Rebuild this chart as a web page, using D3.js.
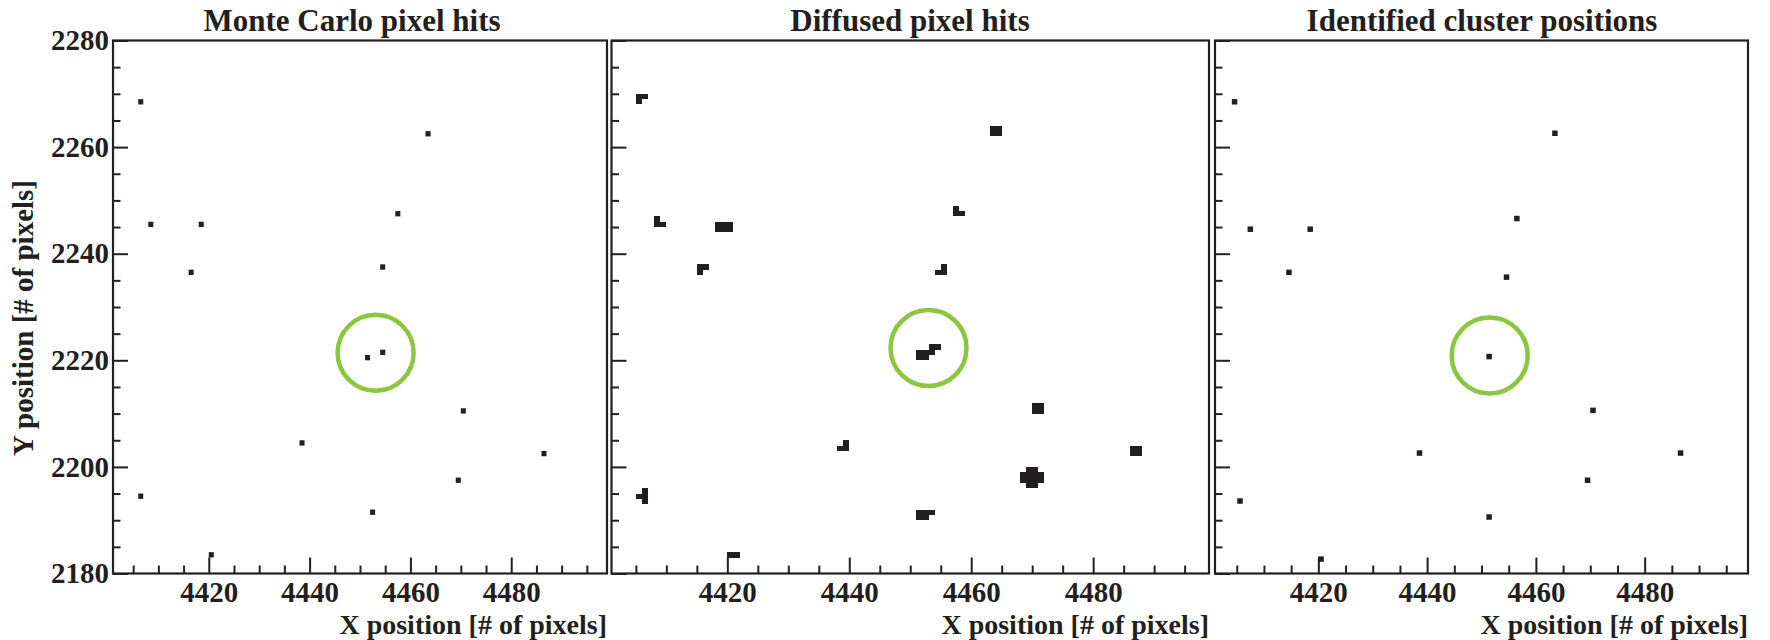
<!DOCTYPE html>
<html>
<head>
<meta charset="utf-8">
<script src="https://cdnjs.cloudflare.com/ajax/libs/d3/7.8.5/d3.min.js"></script>
<style>
  html, body { margin: 0; padding: 0; background: #fff; }
  svg { display: block; }
  text { font-family: "Liberation Serif", "Times New Roman", serif; font-weight: bold; fill: #231f20; }
</style>
</head>
<body>
<svg id="chart"></svg>
<script>
// ---- data ----
const panelTitles = ["Monte Carlo pixel hits", "Diffused pixel hits", "Identified cluster positions"];
const xTitle = "X position [# of pixels]";
const yTitle = "Y position [# of pixels]";

const xDomain = [4401, 4499];
const yDomain = [2180, 2280];
const xMajorTicks = [4420, 4440, 4460, 4480];
const yMajorTicks = [2180, 2200, 2220, 2240, 2260, 2280];

// Monte Carlo hits: one pixel cell each (lower-left corner)
const mcHitX = [4406, 4408, 4418, 4416, 4463, 4457, 4454, 4451, 4454, 4470, 4438, 4486, 4469, 4406, 4452, 4420];
const mcHitY = [2268, 2245, 2245, 2236, 2262, 2247, 2237, 2220, 2221, 2210, 2204, 2202, 2197, 2194, 2191, 2183];

// Diffused hits: pixel cells [x, y]
const diffusedCells = [
  [4405, 2269], [4406, 2269], [4405, 2268],
  [4463, 2262], [4464, 2262], [4463, 2263], [4464, 2263],
  [4408, 2246], [4408, 2245], [4409, 2245],
  [4418, 2244], [4419, 2244], [4420, 2244], [4418, 2245], [4419, 2245], [4420, 2245],
  [4415, 2237], [4416, 2237], [4415, 2236],
  [4457, 2248], [4457, 2247], [4458, 2247],
  [4455, 2237], [4454, 2236], [4455, 2236],
  [4453, 2222], [4454, 2222], [4451, 2221], [4452, 2221], [4453, 2221], [4451, 2220], [4452, 2220],
  [4470, 2210], [4471, 2210], [4470, 2211], [4471, 2211],
  [4439, 2204], [4438, 2203], [4439, 2203],
  [4486, 2202], [4487, 2202], [4486, 2203], [4487, 2203],
  [4469, 2199], [4470, 2199],
  [4468, 2198], [4469, 2198], [4470, 2198], [4471, 2198],
  [4468, 2197], [4469, 2197], [4470, 2197], [4471, 2197],
  [4469, 2196], [4470, 2196],
  [4406, 2195], [4406, 2194], [4406, 2193], [4405, 2194],
  [4451, 2191], [4452, 2191], [4453, 2191], [4451, 2190], [4452, 2190],
  [4420, 2183], [4421, 2183]
];

// Identified cluster centres
const clusterX = [4404.6, 4463.5, 4407.5, 4418.5, 4414.6, 4456.5, 4454.6, 4451.4, 4470.5, 4438.6, 4486.6, 4469.5, 4405.6, 4451.4, 4420.5];
const clusterY = [2268.5, 2262.6, 2244.6, 2244.6, 2236.5, 2246.6, 2235.6, 2220.7, 2210.6, 2202.6, 2202.6, 2197.5, 2193.6, 2190.6, 2182.7];

// highlighted cluster (green ring), one per panel
const ringX = [4453.1, 4453.0, 4451.5];
const ringY = [2221.4, 2222.3, 2220.9];

// ---- layout ----
const width = 1770, height = 640;
const frameTop = 40.5, frameBottom = 573.5;
const panels = [
    { left: 113, right: 607, titleX: 352 },
    { left: 611.5, right: 1209, titleX: 910 },
    { left: 1215, right: 1748, titleX: 1482 }
];
const ink = "#231f20";
const ringColor = "#8cc63f";

const svg = d3.select("#chart")
    .attr("width", width)
    .attr("height", height);

const xMinorTicks = d3.range(4405, 4499, 5).filter(v => v % 20 !== 0);
const yMinorTicks = d3.range(2185, 2280, 5).filter(v => v % 20 !== 0);

panels.forEach((p, i) => {
    const x = d3.scaleLinear().domain(xDomain).range([p.left, p.right]);
    const y = d3.scaleLinear().domain(yDomain).range([frameBottom, frameTop]);

    const g = svg.append("g").attr("class", "panel-" + i);

    // x axis (ticks point inward)
    g.append("g")
        .attr("transform", `translate(0,${frameBottom})`)
        .call(d3.axisBottom(x).tickValues(xMajorTicks).tickSize(-16).tickPadding(8).tickFormat(d3.format("d")))
        .call(a => a.select(".domain").remove())
        .call(a => a.selectAll("text").style("font-size", "29px"));

    g.append("g")
        .attr("transform", `translate(0,${frameBottom})`)
        .call(d3.axisBottom(x).tickValues(xMinorTicks).tickSize(-8).tickFormat(""))
        .call(a => a.select(".domain").remove());

    // y axis
    g.append("g")
        .attr("transform", `translate(${p.left},0)`)
        .call(d3.axisLeft(y).tickValues(yMajorTicks).tickSize(-15).tickPadding(4)
            .tickFormat(i === 0 ? d3.format("d") : ""))
        .call(a => a.select(".domain").remove())
        .call(a => a.selectAll("text").style("font-size", "29px"));

    g.append("g")
        .attr("transform", `translate(${p.left},0)`)
        .call(d3.axisLeft(y).tickValues(yMinorTicks).tickSize(-7.5).tickFormat(""))
        .call(a => a.select(".domain").remove());

    g.selectAll(".tick line")
        .attr("stroke", ink)
        .attr("stroke-width", 2);
    g.selectAll(".tick text").attr("fill", ink);

    // frame
    g.append("rect")
        .attr("x", p.left)
        .attr("y", frameTop)
        .attr("width", p.right - p.left)
        .attr("height", frameBottom - frameTop)
        .attr("fill", "none")
        .attr("stroke", ink)
        .attr("stroke-width", 2.2);

    // marks
    if (i === 0) {
        g.selectAll("rect.hit")
            .data(d3.range(mcHitX.length))
            .enter().append("rect")
            .attr("class", "hit")
            .attr("x", d => x(mcHitX[d]))
            .attr("y", d => y(mcHitY[d] + 1))
            .attr("width", d => x(mcHitX[d] + 1) - x(mcHitX[d]))
            .attr("height", d => y(mcHitY[d]) - y(mcHitY[d] + 1))
            .attr("fill", ink);
    } else if (i === 1) {
        g.selectAll("rect.hit")
            .data(diffusedCells)
            .enter().append("rect")
            .attr("class", "hit")
            .attr("x", d => x(d[0]))
            .attr("y", d => y(d[1] + 1))
            .attr("width", d => x(d[0] + 1) - x(d[0]))
            .attr("height", d => y(d[1]) - y(d[1] + 1))
            .attr("fill", ink)
            .attr("shape-rendering", "crispEdges");
    } else {
        const s = 5.5;
        g.selectAll("rect.hit")
            .data(d3.range(clusterX.length))
            .enter().append("rect")
            .attr("class", "hit")
            .attr("x", d => x(clusterX[d]) - s / 2)
            .attr("y", d => y(clusterY[d]) - s / 2)
            .attr("width", s)
            .attr("height", s)
            .attr("fill", ink);
    }

    // highlight ring
    g.append("circle")
        .attr("cx", x(ringX[i]))
        .attr("cy", y(ringY[i]))
        .attr("r", 38)
        .attr("fill", "none")
        .attr("stroke", ringColor)
        .attr("stroke-width", 4.5);

    // titles
    g.append("text")
        .attr("x", p.titleX)
        .attr("y", 31)
        .attr("text-anchor", "middle")
        .style("font-size", "31px")
        .text(panelTitles[i]);

    g.append("text")
        .attr("x", p.right)
        .attr("y", 634)
        .attr("text-anchor", "end")
        .style("font-size", "28px")
        .text(xTitle);
});

svg.append("text")
    .attr("transform", "translate(33,318) rotate(-90)")
    .attr("text-anchor", "middle")
    .style("font-size", "29px")
    .text(yTitle);
</script>
</body>
</html>
